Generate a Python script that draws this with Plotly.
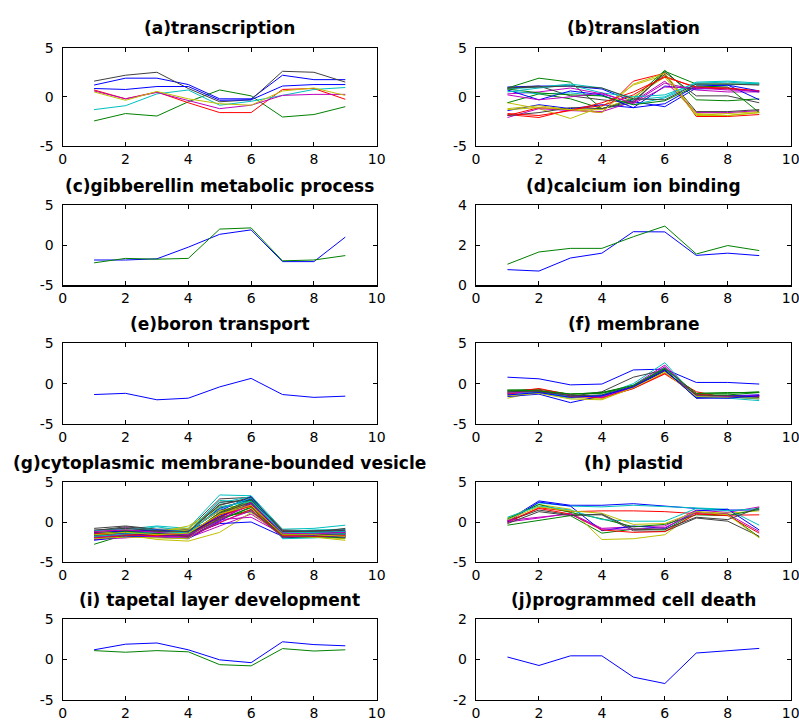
import plotly.graph_objects as go

# ---------------- data ----------------
time_points = [1, 2, 3, 4, 5, 6, 7, 8, 9]
x_tick_labels = [0, 2, 4, 6, 8, 10]

panel_titles = [
    "(a)transcription", "(b)translation",
    "(c)gibberellin metabolic process", "(d)calcium ion binding",
    "(e)boron transport", "(f) membrane",
    "(g)cytoplasmic membrane-bounded vesicle", "(h) plastid",
    "(i) tapetal layer development", "(j)programmed cell death",
]

y_ticks_default = [-5, 0, 5]
y_ticks_calcium = [0, 2, 4]
y_ticks_death = [-2, 0, 2]

a_transcription = [
    [1.2, 1.9, 1.9, 1.25, -0.2, -0.2, 2.2, 1.75, 1.75],
    [-2.45, -1.7, -1.95, -0.5, 0.7, 0.1, -2.05, -1.8, -1.0],
    [0.7, -0.2, 0.5, -0.6, -1.6, -1.6, 0.75, 0.85, -0.25],
    [-1.3, -0.9, 0.3, 0.7, -0.85, -0.45, 0.15, 0.75, 0.95],
    [0.6, -0.2, 0.45, -0.35, -1.2, -0.85, 0.15, 0.25, 0.25],
    [0.5, -0.35, 0.55, -0.2, -0.7, -0.85, 0.6, 0.9, 0.15],
    [1.6, 2.2, 2.5, 0.85, -0.5, -0.3, 2.6, 2.5, 1.5],
    [0.85, 0.75, 1.05, 1.05, -0.35, -0.3, 1.1, 1.25, 1.25],
]

b_translation = [
    [1.0, 1.1, 1.1, 0.8, -0.5, -1.0, 0.9, 1.2, 0.6],
    [0.9, 1.9, 1.5, -1.2, -0.6, 2.6, 1.3, 1.3, 1.3],
    [-1.8, -2.1, -1.3, -1.6, 1.6, 2.4, -2.0, -2.0, -1.8],
    [0.8, 1.0, 1.3, 0.9, -0.3, 0.0, 1.5, 1.6, 1.4],
    [0.3, 0.5, 0.9, 0.3, -0.6, 1.4, 0.7, 0.5, 0.5],
    [-0.6, -1.2, -2.2, -1.0, 1.2, 2.2, -1.8, -1.7, -1.5],
    [0.9, 1.1, 0.1, -0.3, -0.6, 2.5, 0.1, 0.1, -0.6],
    [-1.4, -0.8, -1.2, -0.8, -1.1, 1.1, 0.8, 0.9, 0.5],
    [-0.6, 0.3, -0.2, -1.2, -0.2, 2.7, -0.3, -0.4, -0.2],
    [-1.9, -1.1, -1.3, -0.9, 0.2, 2.1, 0.9, 0.8, 0.6],
    [0.6, 0.3, 0.4, 0.1, -0.8, -0.1, 1.3, 1.2, 1.4],
    [-2.1, -1.2, -1.4, -1.5, -0.5, 1.6, -1.6, -1.6, -1.4],
    [-1.2, -0.9, -1.3, -1.3, 0.0, 2.0, -1.9, -1.9, -1.6],
    [-1.9, -1.6, -1.1, -1.2, -0.4, 2.3, -1.5, -1.5, -1.3],
    [0.7, -0.3, 0.6, 0.2, -1.1, -0.7, 1.1, 1.2, -0.3],
    [0.8, 0.4, 0.2, 0.1, -0.8, -0.4, 1.1, 1.0, -1.6],
    [-1.7, -1.9, -1.4, -0.6, 0.5, 2.0, 1.0, 0.9, 0.6],
    [0.5, 0.9, 1.2, 0.4, 0.0, 0.2, 1.4, 1.5, 1.3],
    [0.2, -0.3, 0.0, 0.4, -0.7, 1.0, 0.9, 0.7, 0.6],
    [-1.3, -1.1, -1.3, -1.6, 1.3, 2.4, -1.7, -1.9, -1.6],
    [0.9, 1.0, 1.1, 0.9, -0.2, -0.3, 1.3, 1.3, 1.2],
]

c_gibberellin = [
    [-1.85, -1.85, -1.7, -0.25, 1.35, 1.9, -2.05, -2.05, 1.0],
    [-2.2, -1.65, -1.75, -1.65, 2.0, 2.15, -1.95, -1.85, -1.3],
]

d_calcium = [
    [0.78, 0.71, 1.36, 1.6, 2.67, 2.66, 1.49, 1.6, 1.48],
    [1.05, 1.66, 1.84, 1.84, 2.42, 2.95, 1.56, 1.98, 1.73],
]

e_boron = [
    [-1.35, -1.2, -2.0, -1.8, -0.4, 0.65, -1.35, -1.7, -1.55],
]

f_membrane = [
    [0.8, 0.6, -0.15, -0.05, 1.7, 1.8, 0.15, 0.15, -0.05],
    [-0.8, -0.7, -1.3, -1.1, -0.3, 1.8, -1.2, -1.1, -1.1],
    [-1.1, -0.6, -1.4, -1.8, -0.6, 1.3, -1.0, -1.8, -1.5],
    [-1.4, -1.1, -1.8, -1.4, 0.0, 2.6, -1.7, -1.8, -2.1],
    [-0.9, -1.0, -1.5, -1.6, -0.2, 2.3, -1.6, -1.6, -1.4],
    [-1.8, -1.0, -1.7, -1.9, -0.4, 1.5, -1.5, -1.5, -1.6],
    [-1.2, -1.0, -1.6, -1.0, 0.8, 1.7, -1.8, -1.6, -1.9],
    [-1.6, -1.3, -2.35, -1.5, -0.5, 1.6, -1.7, -1.5, -1.4],
    [-0.9, -0.9, -1.3, -1.2, -0.3, 1.9, -1.4, -1.4, -1.1],
    [-1.3, -0.8, -1.6, -1.7, -0.6, 1.2, -1.3, -1.6, -1.6],
    [-1.0, -1.2, -1.5, -1.5, -0.2, 2.0, -1.6, -1.7, -1.8],
    [-1.2, -0.9, -1.4, -1.7, -0.4, 2.1, -1.5, -1.6, -1.5],
    [-1.5, -1.2, -1.9, -2.0, -0.5, 1.4, -1.6, -1.7, -1.8],
    [-1.0, -0.9, -1.5, -1.4, -0.3, 1.6, -1.4, -1.5, -1.7],
    [-1.4, -1.1, -1.7, -1.5, -0.4, 1.7, -1.8, -1.8, -1.5],
    [-0.8, -0.9, -1.3, -1.1, -0.2, 1.9, -1.2, -1.2, -1.0],
]

g_vesicle = [
    [-1.2, -1.0, -1.1, -1.0, 0.5, 3.0, -1.3, -1.4, -1.0],
    [-2.8, -1.6, -1.5, -1.9, 0.2, 1.9, -1.8, -1.7, -1.9],
    [-1.5, -1.3, -1.6, -1.4, 1.8, 2.8, -1.1, -1.4, -1.5],
    [-1.3, -0.9, -0.5, -0.8, 3.4, 3.3, -0.9, -0.8, -0.4],
    [-2.2, -2.0, -1.7, -2.0, -0.5, 1.0, -1.6, -1.8, -1.9],
    [-1.8, -1.6, -2.2, -2.4, -1.3, 1.2, -1.9, -1.9, -2.3],
    [-0.8, -0.5, -0.9, -0.9, 2.9, 3.1, -1.0, -1.1, -1.2],
    [-2.1, -1.9, -1.2, -1.7, -0.2, 0.0, -1.8, -1.6, -1.2],
    [-1.7, -1.4, -1.3, -1.6, 0.9, 2.3, -1.5, -1.6, -1.8],
    [-1.9, -1.5, -1.8, -1.7, 1.2, 2.6, -1.3, -1.5, -1.6],
    [-1.6, -1.2, -0.6, -1.2, 2.4, 3.2, -1.2, -1.0, -0.9],
    [-1.4, -0.7, -1.2, -1.5, 0.3, 0.6, -1.5, -1.4, -1.7],
    [-1.5, -1.2, -1.3, -0.5, 1.8, 2.7, -1.6, -1.7, -2.0],
    [-1.1, -0.6, -1.0, -1.3, 2.2, 2.9, -1.2, -1.3, -0.8],
    [-2.3, -1.8, -1.9, -2.1, 0.1, 2.6, -2.0, -1.8, -1.5],
    [-2.0, -1.7, -1.5, -1.8, 0.5, 1.5, -1.9, -1.9, -1.7],
    [-1.2, -1.1, -1.4, -1.2, 1.5, 2.0, -1.4, -1.6, -1.3],
    [-1.9, -1.4, -1.6, -2.0, 0.7, 2.8, -2.1, -2.0, -1.8],
    [-1.8, -1.5, -1.9, -1.8, 0.9, 2.3, -1.7, -1.8, -1.6],
    [-1.3, -1.0, -1.2, -0.8, 2.0, 1.8, -1.3, -1.5, -1.7],
    [-1.6, -1.3, -1.5, -1.6, 1.0, 2.4, -1.6, -1.5, -1.4],
    [-1.7, -1.2, -1.3, -1.1, 1.4, 3.2, -1.4, -1.5, -1.8],
    [-1.4, -1.1, -1.5, -1.4, 0.6, 1.3, -1.5, -1.4, -1.5],
    [-2.0, -1.7, -1.6, -1.9, -0.1, 1.6, -1.8, -1.7, -1.9],
    [-1.1, -0.8, -1.0, -1.2, 2.7, 2.5, -1.6, -1.7, -1.6],
    [-1.6, -1.4, -1.6, -1.7, 0.4, 2.1, -1.4, -1.6, -1.8],
    [-2.1, -1.9, -2.0, -2.1, 0.8, 2.6, -1.7, -1.9, -2.1],
    [-1.4, -1.1, -1.2, -1.4, 2.5, 2.7, -1.1, -1.2, -1.1],
    [-1.3, -1.2, -1.0, -1.3, 1.7, 2.9, -1.5, -1.4, -1.3],
    [-1.8, -1.6, -1.7, -1.5, 0.3, 1.8, -1.8, -1.8, -2.0],
    [-1.7, -1.4, -1.5, -1.6, 0.6, 2.2, -1.5, -1.4, -1.4],
    [-1.5, -1.3, -1.4, -1.3, 1.6, 3.0, -1.4, -1.3, -1.2],
    [-1.9, -1.6, -1.8, -1.9, 0.0, 1.4, -1.9, -1.7, -1.6],
    [-1.2, -1.4, -1.5, -1.0, 1.4, 2.2, -1.5, -1.6, -1.9],
    [-1.7, -1.5, -1.4, -1.8, 1.1, 2.5, -1.7, -1.6, -1.5],
    [-1.5, -1.4, -1.7, -1.5, 0.7, 2.3, -1.6, -1.7, -1.9],
    [-1.6, -1.2, -1.4, -1.6, 1.2, 2.8, -1.6, -1.5, -1.4],
    [-1.4, -1.6, -1.7, -1.4, 0.9, 2.0, -1.7, -1.8, -1.7],
    [-1.8, -1.5, -1.3, -1.5, 1.9, 2.6, -1.3, -1.4, -1.5],
    [-1.2, -1.0, -1.3, -1.6, 0.2, 2.4, -1.4, -1.5, -1.3],
    [-1.6, -1.3, -1.6, -1.4, 1.0, 2.1, -1.6, -1.6, -1.8],
    [-1.0, -0.8, -1.1, -1.2, 2.1, 3.1, -1.2, -1.1, -1.0],
]

h_plastid = [
    [0.2, 2.65, 2.1, 2.1, 2.3, 2.0, 1.7, 1.5, 1.5],
    [-0.4, 0.2, 0.8, -1.4, -0.9, -1.0, 1.2, 1.0, -1.9],
    [-0.1, 1.8, 1.3, 1.4, 1.4, 1.3, 1.05, 0.85, 0.9],
    [0.3, 2.4, 2.0, 1.9, 2.1, 1.95, 1.8, 1.6, -0.4],
    [0.0, 0.5, 1.1, -0.8, -0.6, -0.5, 1.5, 1.2, 1.9],
    [0.5, 2.2, 1.6, -2.2, -2.1, -1.6, 1.3, 1.1, 1.4],
    [0.1, 1.5, 0.9, 0.9, -1.1, -1.2, 0.5, 0.1, -1.8],
    [0.0, 2.5, 2.0, -1.1, -0.5, -0.8, 1.4, 1.6, -1.0],
    [0.4, 2.2, 1.2, 0.4, -0.6, -0.3, 0.9, 0.8, 1.6],
    [0.1, 1.7, 1.0, -1.0, -1.3, -1.2, 1.0, 0.8, -1.4],
    [0.6, 2.0, 1.5, 0.3, 0.1, 0.1, 1.7, 1.4, 1.7],
    [0.2, 0.6, 1.0, -0.9, -0.9, -0.7, 1.2, 1.0, -1.2],
    [0.3, 1.9, 1.4, 1.1, -0.3, -0.2, 1.3, 0.9, -2.0],
    [-0.2, 1.3, 0.8, 1.0, -0.9, -0.9, 0.6, 0.3, 1.8],
]

i_tapetal = [
    [1.2, 1.9, 2.05, 1.2, -0.05, -0.4, 2.2, 1.85, 1.7],
    [1.1, 0.9, 1.1, 0.95, -0.65, -0.8, 1.35, 1.05, 1.2],
]

j_cell_death = [
    [0.12, -0.3, 0.18, 0.18, -0.88, -1.2, 0.32, 0.43, 0.55],
]

panel_series = [a_transcription, b_translation, c_gibberellin, d_calcium,
                e_boron, f_membrane, g_vesicle, h_plastid, i_tapetal,
                j_cell_death]
panel_yticks = [y_ticks_default, y_ticks_default, y_ticks_default,
                y_ticks_calcium, y_ticks_default, y_ticks_default,
                y_ticks_default, y_ticks_default, y_ticks_default,
                y_ticks_death]

# ---------------- styling ----------------
W, H = 799, 722
matlab_colors = ["#0000FF", "#008000", "#FF0000", "#00BFBF",
                 "#BF00BF", "#BFBF00", "#404040"]
col_x = [(62.7, 376.7), (476.0, 790.7)]
row_y = [(47.7, 146.0), (205.0, 285.3), (343.3, 424.0),
         (482.2, 561.8), (619.3, 699.6)]
FONT = "DejaVu Sans"

fig = go.Figure()
layout = dict(
    width=W, height=H,
    margin=dict(l=0, r=0, t=0, b=0, pad=0),
    paper_bgcolor="white", plot_bgcolor="white",
    showlegend=False,
    annotations=[],
)

for p, series in enumerate(panel_series):
    row, col = divmod(p, 2)
    k = p + 1
    xa = "x" if k == 1 else f"x{k}"
    ya = "y" if k == 1 else f"y{k}"
    for idx, vals in enumerate(series):
        fig.add_trace(go.Scatter(
            x=time_points, y=vals, mode="lines",
            line=dict(color=matlab_colors[idx % 7], width=1),
            xaxis=xa, yaxis=ya, hoverinfo="skip",
        ))
    x0, x1 = col_x[col]
    t0, t1 = row_y[row]
    yt = panel_yticks[p]
    axis_common = dict(
        automargin=False, ticklabeloverflow="allow",
        showgrid=False, zeroline=False, showline=True,
        linecolor="black", linewidth=1.2, mirror="ticks",
        ticks="inside", ticklen=4, tickwidth=1, tickcolor="black",
        tickfont=dict(family=FONT, size=14, color="black"),
    )
    layout["xaxis" if k == 1 else f"xaxis{k}"] = dict(
        domain=[x0 / W, x1 / W], anchor=ya, range=[0, 10],
        tickvals=x_tick_labels, ticktext=[str(v) for v in x_tick_labels],
        ticklabelstandoff=0, **axis_common)
    layout["yaxis" if k == 1 else f"yaxis{k}"] = dict(
        domain=[1 - t1 / H, 1 - t0 / H], anchor=xa,
        range=[yt[0], yt[-1]], tickvals=yt,
        ticktext=[str(v) for v in yt], ticklabelstandoff=5,
        **axis_common)
    layout["annotations"].append(dict(
        text=panel_titles[p], xref="paper", yref="paper",
        x=(x0 + x1) / 2 / W, y=1 - (t0 - 19.5) / H,
        xanchor="center", yanchor="middle", showarrow=False,
        font=dict(family=FONT, size=17, color="black", weight="bold"),
    ))

fig.update_layout(**layout)
fig.write_html(
    "out.html",
    config={"displayModeBar": False, "staticPlot": True},
    post_script=(
        "document.body.style.margin='0';"
        "document.body.style.overflow='hidden';"
    ),
)
